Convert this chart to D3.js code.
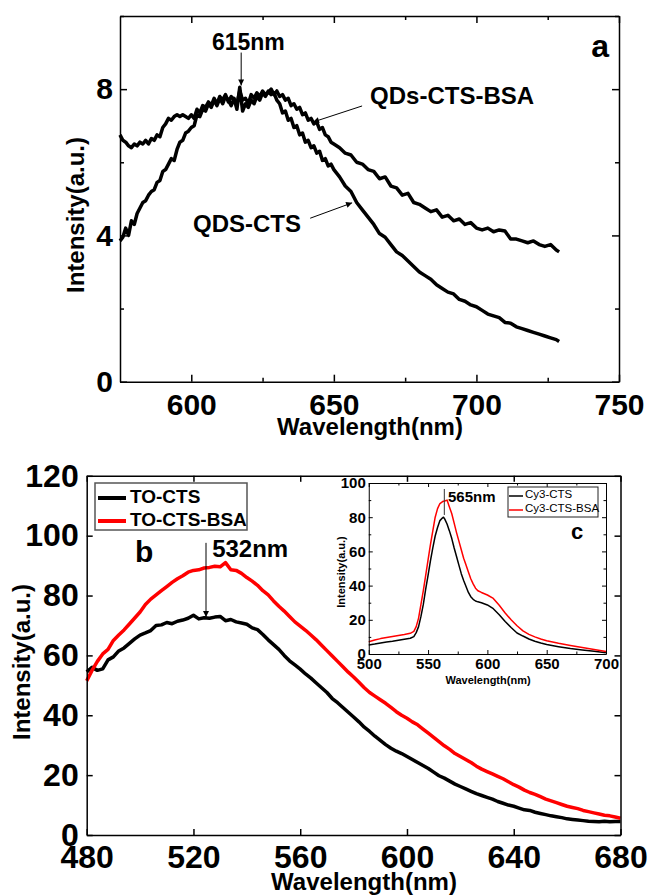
<!DOCTYPE html>
<html>
<head>
<meta charset="utf-8">
<script src="https://cdn.jsdelivr.net/npm/d3@7"></script>
<style>
  body { margin: 0; background: #fff; }
</style>
</head>
<body>
<div id="chart"></div>
<script>
// ---- panel a : QDs ----
const aWave = [
  575,576,577,578,579,580,581,582,583,584,585,586,587,588,589,590,591,592,593,594,
  595,596,597,598,599,600,601,602,603,604,605,606,607,608,609,610,611,612,613,614,
  615,616,617,618,619,620,621,622,623,624,625,626,627,628,629,630,631,632,633,634,
  635,636,637,638,639,640,641,642,643,644,645,646,647,648,649,650,
  652,654,656,658,660,662,664,666,668,670,672,674,676,678,680,682,684,686,688,690,
  692,694,696,698,700,702,704,706,708,710,712,714,716,718,720,722,724,726,728,729
]
const aBSA = [
  6.75,6.6,6.55,6.45,6.4,6.5,6.45,6.55,6.5,6.6,6.5,6.65,6.6,6.75,6.7,6.95,7.05,7.2,7.15,7.25,
  7.3,7.25,7.3,7.25,7.2,7.3,7.2,7.45,7.35,7.55,7.5,7.65,7.55,7.75,7.6,7.8,7.7,7.85,7.65,7.8,
  7.7,7.6,7.95,7.7,7.75,7.6,7.85,7.75,7.9,7.8,7.95,7.85,7.9,8.0,7.85,7.95,7.8,7.85,7.7,7.75,
  7.55,7.6,7.45,7.5,7.3,7.35,7.15,7.2,7.05,7.1,6.9,6.95,6.75,6.7,6.55,6.5,
  6.4,6.25,6.2,6.0,5.95,5.8,5.75,5.55,5.6,5.35,5.3,5.1,5.15,4.9,4.85,4.75,4.65,4.7,4.5,4.55,
  4.4,4.45,4.3,4.35,4.2,4.15,4.2,4.1,4.15,4.12,3.9,3.9,3.85,3.8,3.85,3.75,3.7,3.75,3.6,3.55
]
const aCTS = [
  3.85,3.95,4.2,4.0,4.4,4.3,4.6,4.75,4.9,4.95,5.1,5.2,5.25,5.45,5.5,5.75,5.8,5.95,6.1,6.05,
  6.35,6.55,6.6,6.8,6.85,6.95,7.0,7.3,7.25,7.45,7.4,7.6,7.5,7.7,7.55,7.75,7.6,7.8,7.7,7.55,
  7.75,7.45,8.05,7.4,7.6,7.5,7.7,7.6,7.8,7.7,7.9,7.8,7.95,7.85,7.9,7.7,7.6,7.35,7.4,7.15,
  7.2,6.95,7.0,6.75,6.8,6.55,6.6,6.4,6.45,6.25,6.3,6.05,6.1,5.9,5.95,5.8,
  5.6,5.35,5.2,4.9,4.7,4.5,4.3,4.05,3.95,3.75,3.55,3.45,3.3,3.15,3.0,2.9,2.8,2.65,2.55,2.45,
  2.4,2.25,2.2,2.1,2.05,1.95,1.85,1.8,1.75,1.62,1.6,1.5,1.45,1.4,1.35,1.3,1.25,1.2,1.15,1.1
]
const aXMajor = [600, 650, 700, 750]
const aXMinor = [625, 675, 725]
const aYMajor = [0, 4, 8]
const aYMinor = [2, 6, 10]

// ---- panel b : TO ----
const bWave = d3.range(480, 681, 2)
const bCTS = [
  54.5,56,55,55.5,58.5,59.5,61.5,62.5,64,65.5,66.8,67.5,68.3,70,70.2,71,70.6,71.4,71.8,72.4,
  73.4,72.2,72.6,72.4,72.8,73,71.6,72,71.2,70.8,70.4,69.2,68.6,67,65.2,63.6,62,60,58.2,56.8,
  55.4,53.8,52.4,50.8,49.2,47.6,45.6,44.2,42.6,41,39.4,37.8,36,34.6,33,31.6,30.2,29,28,27.2,
  26.2,25.2,24.2,23.2,22.2,21,19.8,19,18,17,16.2,15.4,14.6,13.8,13.2,12.6,12,11.2,10.6,10,
  9.6,9,8.4,8.2,7.6,7.2,6.8,6.4,6.1,5.8,5.4,5.2,5,4.8,4.6,4.5,4.4,4.6,4.4,4.5,4.5
]
const bBSA = [
  51.5,55,58,60.5,62,65,66.8,68.5,70.5,72.5,74.5,77,78.8,80.2,81.6,83,84.4,85.6,86.6,87.8,
  88.4,88.6,89.2,89.4,89.8,89.6,91,88.6,88.4,87.4,86,84.8,83.4,81.6,80.2,78.2,76.4,74.8,73,71.2,
  69.8,68.4,66.8,65.2,63.4,61.6,59.8,58,56.2,54.4,52.8,51,49.2,47.6,46.4,45.2,44,42.6,41.2,40,
  39,37.8,36.8,35.4,34,32.6,31.2,29.8,28.6,27.2,26.2,25.2,24.2,23,22,21.2,20.4,19.6,18.8,17.8,
  16.8,16,15,14.2,13.6,12.8,12,11.4,10.8,10.2,9.6,9.2,8.8,8.2,7.8,7.4,7.0,6.6,6.4,6.0,5.6
]
const bXTicks = [480, 520, 560, 600, 640, 680]
const bYTicks = [0, 20, 40, 60, 80, 100, 120]

// ---- inset c : Cy3 ----
const cWave = [500,505,510,515,520,525,530,535,538,540,542,544,546,548,550,552,554,556,558,560,
  562,563,564,566,568,570,572,574,576,578,580,582,584,586,588,590,592,595,600,605,
  610,615,620,625,630,635,640,645,650,660,670,680,690,700]
const cCTS = [5.3,5.8,6.4,7.0,7.4,8.0,8.6,9.2,10.2,12.5,16,22,29,38,46,54.5,62,69,74,78,
  79.5,80,79,76,72,67.5,62,57,52,47,43,39.5,36,33.5,32,31,30.5,30,28.7,26.5,
  23,19,15.5,12.3,10.5,8.8,7.5,6.4,5.5,4.3,3.2,2.4,1.6,0.8]
const cBSA = [7.2,8.2,9.0,9.6,10.2,10.8,11.4,12.1,13.2,16,21,29,37,46,55,64,72,80,85,88,
  89,89.3,89.5,90,86,82,76.5,71,66,61,56,52,48,44,41,38.5,37,36,34.5,32.5,
  28.5,24,20,16.5,13.5,11.5,10,8.8,7.8,6.3,5,3.8,2.6,1.5]
const cXMajor = [500, 550, 600, 650, 700]
const cXMinor = [525, 575, 625, 675]
const cYMajor = [0, 20, 40, 60, 80, 100]
const cYMinor = [10, 30, 50, 70, 90]

const FONT = '"Liberation Sans", Arial, Helvetica, sans-serif'

let svg = d3.select('#chart').append('svg')
  .attr('width', 651)
  .attr('height', 896)

svg.append('defs').append('marker')
  .attr('id', 'arrow')
  .attr('viewBox', '0 0 10 10')
  .attr('refX', 10)
  .attr('refY', 5)
  .attr('markerUnits', 'userSpaceOnUse')
  .attr('markerWidth', 8)
  .attr('markerHeight', 6)
  .attr('orient', 'auto')
  .append('path')
  .attr('d', 'M0,0 L10,5 L0,10 z')
  .attr('fill', '#000')

// draws the box with inward ticks on all four sides
function frame(x, y, o) {
  let [x0, x1] = x.range()
  let [y0, y1] = y.range()
  let style = function(g, sw) {
    g.attr('font-family', FONT).attr('font-weight', 'bold').attr('font-size', o.fs)
    g.selectAll('.domain').attr('stroke', '#000').attr('stroke-width', sw)
    g.selectAll('.tick line').attr('stroke', '#000').attr('stroke-width', sw)
    g.selectAll('.tick text').attr('fill', '#000')
  }
  // minor ticks
  if (o.xMinor) {
    svg.append('g').attr('transform', 'translate(0,' + y0 + ')')
      .call(d3.axisBottom(x).tickValues(o.xMinor).tickSize(-o.minor).tickFormat(''))
      .call(g => { g.select('.domain').remove(); style(g, o.sw) })
    svg.append('g').attr('transform', 'translate(0,' + y1 + ')')
      .call(d3.axisTop(x).tickValues(o.xMinor).tickSize(-o.minor).tickFormat(''))
      .call(g => { g.select('.domain').remove(); style(g, o.sw) })
  }
  if (o.yMinor) {
    svg.append('g').attr('transform', 'translate(' + x0 + ',0)')
      .call(d3.axisLeft(y).tickValues(o.yMinor).tickSize(-o.minor).tickFormat(''))
      .call(g => { g.select('.domain').remove(); style(g, o.sw) })
    svg.append('g').attr('transform', 'translate(' + x1 + ',0)')
      .call(d3.axisRight(y).tickValues(o.yMinor).tickSize(-o.minor).tickFormat(''))
      .call(g => { g.select('.domain').remove(); style(g, o.sw) })
  }
  // major ticks + labels
  svg.append('g').attr('transform', 'translate(0,' + y0 + ')')
    .call(d3.axisBottom(x).tickValues(o.xMajor).tickSize(-o.major).tickSizeOuter(0)
      .tickPadding(o.xPad).tickFormat(d3.format('d')))
    .call(g => style(g, o.sw))
  svg.append('g').attr('transform', 'translate(0,' + y1 + ')')
    .call(d3.axisTop(x).tickValues(o.xMajor).tickSize(-o.major).tickSizeOuter(0).tickFormat(''))
    .call(g => style(g, o.sw))
  svg.append('g').attr('transform', 'translate(' + x0 + ',0)')
    .call(d3.axisLeft(y).tickValues(o.yMajor).tickSize(-o.major).tickSizeOuter(0)
      .tickPadding(o.yPad).tickFormat(d3.format('d')))
    .call(g => style(g, o.sw))
  svg.append('g').attr('transform', 'translate(' + x1 + ',0)')
    .call(d3.axisRight(y).tickValues(o.yMajor).tickSize(-o.major).tickSizeOuter(0).tickFormat(''))
    .call(g => style(g, o.sw))
}

function label(txt, x, y, size, opts) {
  opts = opts || {}
  let t = svg.append('text')
    .attr('x', x).attr('y', y)
    .attr('font-family', FONT)
    .attr('font-weight', opts.weight || 'bold')
    .attr('font-size', size)
    .attr('text-anchor', opts.anchor || 'start')
    .attr('fill', '#000')
    .text(txt)
  if (opts.rotate) t.attr('transform', 'rotate(-90,' + x + ',' + y + ')')
  return t
}

function curve(x, y, xs, ys, color, w) {
  svg.append('path')
    .datum(d3.zip(xs, ys))
    .attr('fill', 'none')
    .attr('stroke', color)
    .attr('stroke-width', w)
    .attr('stroke-linejoin', 'round')
    .attr('d', d3.line().x(d => x(d[0])).y(d => y(d[1])))
}

// ================= panel a =================
let xa = d3.scaleLinear().domain([575, 750]).range([120, 619])
let ya = d3.scaleLinear().domain([0, 10]).range([381.7, 16])

curve(xa, ya, aWave, aBSA, '#000', 3.5)
curve(xa, ya, aWave, aCTS, '#000', 3.5)

frame(xa, ya, {xMajor: aXMajor, xMinor: aXMinor, yMajor: aYMajor, yMinor: aYMinor,
  major: 7, minor: 4, sw: 1.5, fs: 30, xPad: 12, yPad: 7})

label('Intensity(a.u.)', 84, 215, 24, {anchor: 'middle', rotate: true})
label('Wavelength(nm)', 370, 435, 24, {anchor: 'middle'})
label('a', xa(743.4), ya(8.88), 32, {anchor: 'middle'})

label('615nm', xa(620), ya(9.07), 23, {anchor: 'middle'})
svg.append('line')
  .attr('x1', xa(617.5)).attr('y1', ya(9.0))
  .attr('x2', xa(617.5)).attr('y2', ya(8.1))
  .attr('stroke', '#000').attr('stroke-width', 1)
  .attr('marker-end', 'url(#arrow)')

label('QDs-CTS-BSA', xa(662.7), ya(7.6), 24)
svg.append('line')
  .attr('x1', xa(659.9)).attr('y1', ya(7.54))
  .attr('x2', xa(642.7)).attr('y2', ya(7.1))
  .attr('stroke', '#000').attr('stroke-width', 1)
  .attr('marker-end', 'url(#arrow)')

label('QDS-CTS', xa(600.6), ya(4.1), 24)
svg.append('line')
  .attr('x1', xa(641.7)).attr('y1', ya(4.47))
  .attr('x2', xa(656.4)).attr('y2', ya(4.89))
  .attr('stroke', '#000').attr('stroke-width', 1)
  .attr('marker-end', 'url(#arrow)')

// ================= panel b =================
let xb = d3.scaleLinear().domain([480, 680]).range([86.7, 620.5])
let yb = d3.scaleLinear().domain([0, 120]).range([835, 475.8])

curve(xb, yb, bWave, bCTS, '#000', 3.5)
curve(xb, yb, bWave, bBSA, '#ff0000', 3.5)

frame(xb, yb, {xMajor: bXTicks, yMajor: bYTicks, major: 6, sw: 1.5, fs: 32, xPad: 10, yPad: 8})

label('Intensity(a.u.)', 30, 662, 24, {anchor: 'middle', rotate: true})
label('Wavelength(nm)', 364, 890, 24, {anchor: 'middle'})
label('b', xb(501.5), yb(91.2), 30, {anchor: 'middle'})

label('532nm', xb(527), yb(92.9), 24)
svg.append('line')
  .attr('x1', xb(524.7)).attr('y1', yb(97.6))
  .attr('x2', xb(524.7)).attr('y2', yb(72.8))
  .attr('stroke', '#000').attr('stroke-width', 1)
  .attr('marker-end', 'url(#arrow)')

// legend b
let legB = svg.append('g').attr('transform', 'translate(95,483)')
legB.append('rect')
  .attr('width', 152).attr('height', 47)
  .attr('fill', 'none').attr('stroke', '#555').attr('stroke-width', 1.5)
;[['TO-CTS', '#000'], ['TO-CTS-BSA', '#ff0000']].forEach(function(d, i) {
  legB.append('line')
    .attr('x1', 3).attr('x2', 31)
    .attr('y1', 15 + i * 23).attr('y2', 15 + i * 23)
    .attr('stroke', d[1]).attr('stroke-width', 4)
  legB.append('text')
    .attr('x', 35).attr('y', 20 + i * 23)
    .attr('font-family', FONT).attr('font-weight', 'bold').attr('font-size', 19)
    .text(d[0])
})

// ================= inset c =================
let xc = d3.scaleLinear().domain([500, 700]).range([368.75, 606])
let yc = d3.scaleLinear().domain([0, 100]).range([654, 483])

svg.append('rect')
  .attr('x', 368.75).attr('y', 483).attr('width', 606 - 368.75).attr('height', 654 - 483)
  .attr('fill', '#fff')

curve(xc, yc, cWave, cCTS, '#000', 1.5)
curve(xc, yc, cWave, cBSA, '#ff0000', 1.5)

frame(xc, yc, {xMajor: cXMajor, xMinor: cXMinor, yMajor: cYMajor, yMinor: cYMinor,
  major: 4, minor: 2.5, sw: 1, fs: 15, xPad: 4, yPad: 3})

label('Intensity(a.u.)', 345, 572, 11, {anchor: 'middle', rotate: true})
label('Wavelength(nm)', 488, 684, 11, {anchor: 'middle'})
label('c', xc(675.6), yc(67.3), 22, {anchor: 'middle'})

label('565nm', xc(566.8), yc(88.9), 15)
svg.append('line')
  .attr('x1', xc(563.7)).attr('y1', yc(96.5))
  .attr('x2', xc(563.7)).attr('y2', yc(81.3))
  .attr('stroke', '#333').attr('stroke-width', 1)

let legC = svg.append('g').attr('transform', 'translate(508,487)')
legC.append('rect')
  .attr('width', 90).attr('height', 30)
  .attr('fill', 'none').attr('stroke', '#222').attr('stroke-width', 1)
;[['Cy3-CTS', '#000'], ['Cy3-CTS-BSA', '#ff0000']].forEach(function(d, i) {
  legC.append('line')
    .attr('x1', 1).attr('x2', 15)
    .attr('y1', 9 + i * 14).attr('y2', 9 + i * 14)
    .attr('stroke', d[1]).attr('stroke-width', 1.5)
  legC.append('text')
    .attr('x', 17).attr('y', 11 + i * 14)
    .attr('font-family', FONT).attr('font-size', 11.5)
    .attr('fill', '#000')
    .text(d[0])
})
</script>
</body>
</html>
